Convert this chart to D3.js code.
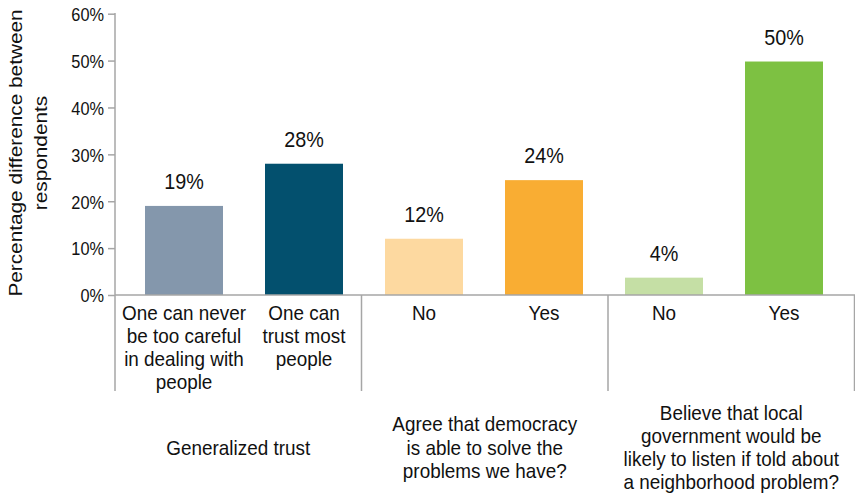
<!DOCTYPE html>
<html>
<head>
<meta charset="utf-8">
<script src="https://cdn.jsdelivr.net/npm/d3@7"></script>
<style>
  html, body { margin: 0; padding: 0; background: #fff; }
  svg { display: block; }
  text { font-family: "Liberation Sans", Arial, sans-serif; fill: #111; }
</style>
</head>
<body>
<svg id="chart" width="855" height="496"></svg>
<script>
// ---- data ----
const categories = ["c1", "c2", "c3", "c4", "c5", "c6"];
const categoryLabels = [
  ["One can never", "be too careful", "in dealing with", "people"],
  ["One can", "trust most", "people"],
  ["No"],
  ["Yes"],
  ["No"],
  ["Yes"]
];
const values = [19, 28, 12, 24.5, 3.7, 49.8];
const valueLabels = ["19%", "28%", "12%", "24%", "4%", "50%"];
const barColors = ["#8497ac", "#03506e", "#fdd9a0", "#f9ad33", "#c5dfa5", "#7dc142"];
const groups = [
  ["Generalized trust"],
  ["Agree that democracy", "is able to solve the", "problems we have?"],
  ["Believe that local", "government would be", "likely to listen if told about", "a neighborhood problem?"]
];
const yTicks = [0, 10, 20, 30, 40, 50, 60];
const yTitle = ["Percentage difference between", "respondents"];

// ---- layout ----
const svg = d3.select("#chart");
const SX = 0.9; // horizontal squeeze of text in reference
const axisColor = "#a6a6a6";

const y = d3.scaleLinear().domain([0, 60]).range([295, 13.7]);
const x = d3.scaleBand().domain(categories).range([124, 844]).paddingInner(0.35).paddingOuter(0.175);
const gx = d3.scaleLinear().domain([0, 3]).range([115, 854.5]);

function txt(sel, xx, yy, str, size, anchor) {
  return sel.append("text")
    .attr("transform", `translate(${xx},${yy}) scale(${SX},1)`)
    .attr("text-anchor", anchor || "middle")
    .style("font-size", size + "px")
    .text(str);
}

// bars
svg.append("g").selectAll("rect").data(values).join("rect")
  .attr("x", (d, i) => x(categories[i]))
  .attr("width", x.bandwidth())
  .attr("y", d => y(d))
  .attr("height", d => y(0) - y(d))
  .attr("fill", (d, i) => barColors[i]);

// y axis
const yAxis = d3.axisLeft(y).tickValues(yTicks).tickFormat(d => d + "%").tickSize(7).tickPadding(4);
const ag = svg.append("g").attr("transform", "translate(115,0)").call(yAxis);
ag.select(".domain").remove();
ag.selectAll(".tick line").attr("stroke", axisColor).attr("stroke-width", 1.5);
ag.selectAll(".tick text").each(function() {
  const t = d3.select(this);
  const xx = +t.attr("x");
  t.attr("x", null).attr("dy", null)
   .attr("transform", `translate(${xx},6.8) scale(${0.86},1)`)
   .style("font-size", "19px")
   .style("font-family", '"Liberation Sans", Arial, sans-serif')
   .attr("fill", "#111");
});
ag.attr("font-family", null).attr("font-size", null);

// axis lines
svg.append("line").attr("x1", 115).attr("x2", 115).attr("y1", 13).attr("y2", 391)
  .attr("stroke", axisColor).attr("stroke-width", 1.5);
svg.append("line").attr("x1", 115).attr("x2", 855).attr("y1", y(0)).attr("y2", y(0))
  .attr("stroke", axisColor).attr("stroke-width", 1.5);
svg.append("g").selectAll("line").data([1, 2, 3]).join("line")
  .attr("x1", d => gx(d)).attr("x2", d => gx(d))
  .attr("y1", y(0)).attr("y2", 391)
  .attr("stroke", axisColor).attr("stroke-width", 1.5);

// value labels
values.forEach((v, i) => {
  txt(svg, x(categories[i]) + x.bandwidth() / 2, y(v) - 17, valueLabels[i], 22);
});

// category labels
categoryLabels.forEach((lines, i) => {
  lines.forEach((l, j) => {
    txt(svg, x(categories[i]) + x.bandwidth() / 2, 319.5 + j * 23.3, l, 21);
  });
});

// group labels
groups.forEach((lines, i) => {
  const cx = (gx(i) + gx(i + 1)) / 2;
  const n = lines.length;
  lines.forEach((l, j) => {
    txt(svg, cx, 454.5 + (j - (n - 1) / 2) * 23.3, l, 21);
  });
});

// y title
yTitle.forEach((l, j) => {
  svg.append("text")
    .attr("transform", `translate(${22 + j * 25},${153}) rotate(-90) scale(1,${SX})`)
    .attr("text-anchor", "middle")
    .style("font-size", "20.8px")
    .text(l);
});
</script>
</body>
</html>
